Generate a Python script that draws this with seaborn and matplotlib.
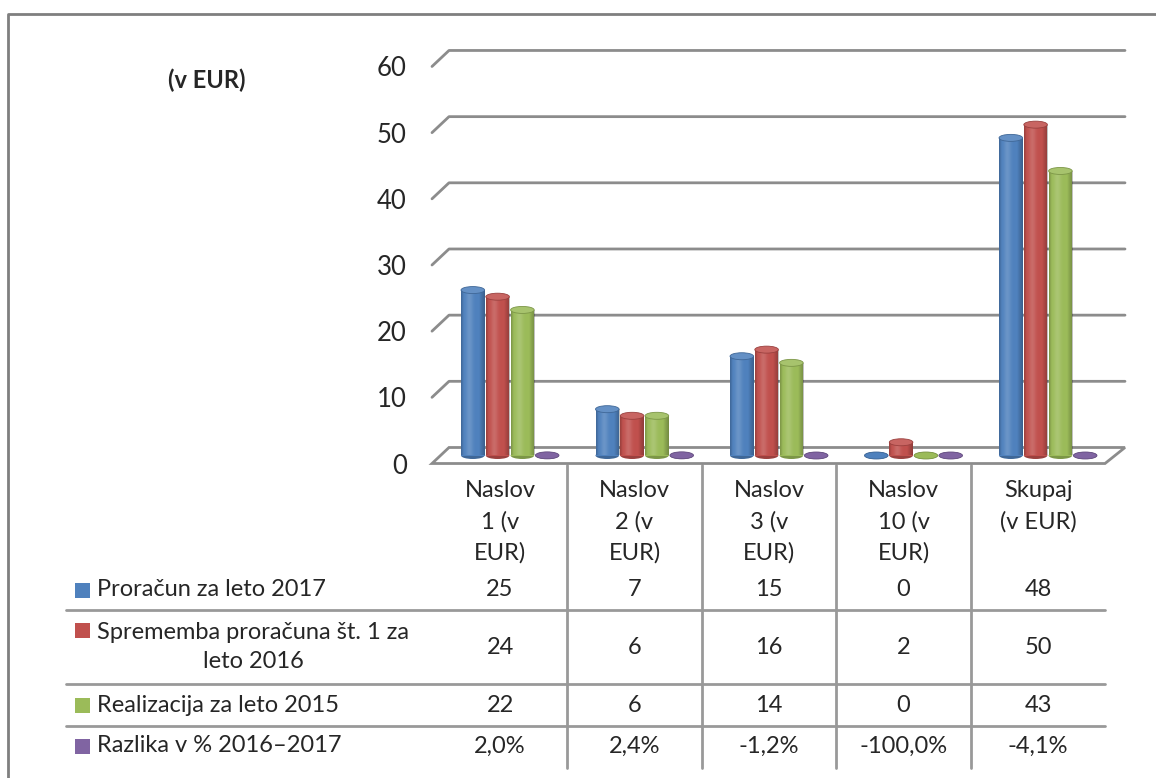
import numpy as np
import pandas as pd
import matplotlib
matplotlib.use("Agg")
import matplotlib.pyplot as plt
from matplotlib.patches import Ellipse, Polygon, Rectangle
from matplotlib.colors import to_rgb
import seaborn as sns

# ---------- data ----------
categories = ["Naslov\n1 (v\nEUR)", "Naslov\n2 (v\nEUR)", "Naslov\n3 (v\nEUR)",
              "Naslov\n10 (v\nEUR)", "Skupaj\n(v EUR)"]
series = ["Proračun za leto 2017", "Sprememba proračuna št. 1 za\nleto 2016",
          "Realizacija za leto 2015", "Razlika v % 2016–2017"]
proracun_2017 = [25, 7, 15, 0, 48]
sprememba_2016 = [24, 6, 16, 2, 50]
realizacija_2015 = [22, 6, 14, 0, 43]
razlika_pct = [2.0, 2.4, -1.2, -100.0, -4.1]
colors = ["#4F81BD", "#C0504D", "#9BBB59", "#8064A2"]
y_ticks = [0, 10, 20, 30, 40, 50, 60]

# ---------- layout (pixels) ----------
W, H = 1156, 778
X0, DX = 510, 134.5      # pixel of first category, pixels per category
Y0, DY = 455.5, 6.617    # pixel of value 0, pixels per unit
OFF = 1.21               # depth offset of back wall / front edge (value units)
COL_OFF = -0.074         # table columns vs bar groups
AX_L, AX_R, AX_T, AX_B = 420, 1140, 30, 475


def cx(px):
    return (px - X0) / DX


sns.set_theme(style="white")
plt.rcParams["font.family"] = ["Lato", "DejaVu Sans"]
FS = 17

fig = plt.figure(figsize=(W / 100, H / 100), dpi=100)

# background axes for the data table and frame (x in category units, y in pixels)
tab = fig.add_axes([0, 0, 1, 1])
tab.set_xlim(cx(0), cx(W))
tab.set_ylim(H, 0)
tab.axis("off")

ax = fig.add_axes([AX_L / W, 1 - AX_B / H, (AX_R - AX_L) / W, (AX_B - AX_T) / H])
ax.set_facecolor("none")

rows = []
for i, cat in enumerate(categories):
    for s, vals in zip(series, [proracun_2017, sprememba_2016, realizacija_2015,
                                [v / 100 for v in razlika_pct]]):
        rows.append({"naslov": cat, "serija": s, "vrednost": vals[i]})
df = pd.DataFrame(rows)

sns.barplot(data=df, x="naslov", y="vrednost", hue="serija", order=categories,
            hue_order=series, palette=colors, saturation=1, width=0.7376, gap=0.05,
            errorbar=None, legend=False, linewidth=0, ax=ax)

xlim = (cx(AX_L), cx(AX_R))
ylim = ((Y0 - AX_B) / DY, (Y0 - AX_T) / DY)
GRID = "#8c8c8c"

# floor and back wall gridlines
floor = Polygon([(cx(432), -OFF), (cx(1105), -OFF), (cx(1125), OFF), (cx(449), OFF)],
                closed=True, facecolor="white", edgecolor=GRID, lw=2, zorder=0.5)
ax.add_patch(floor)
for v in y_ticks[1:]:
    ax.plot([cx(432), cx(449), cx(1125)], [v - OFF, v + OFF, v + OFF],
            color=GRID, lw=2, zorder=0.4, solid_capstyle="round")

# cylinder look
t = np.linspace(0, 1, 64)
a_dark = np.clip(0.2 * (1 - t / 0.12), 0, None) + np.clip(0.26 * (t - 0.75) / 0.25, 0, None)
a_light = 0.16 * np.exp(-((t - 0.35) / 0.15) ** 2)
shade = np.zeros((1, 64, 4))
shade[0, :, :3] = (a_light / (a_light + a_dark + 1e-9))[:, None]
shade[0, :, 3] = a_light + a_dark

CAP = 7 / DY
clip_rect = Rectangle((xlim[0], 0), xlim[1] - xlim[0], ylim[1], transform=ax.transData)
for k, cont in enumerate(ax.containers):
    base = np.array(to_rgb(colors[k]))
    light = base + (1 - base) * 0.12
    dark = base * 0.8
    for bar in cont:
        x, w, h = bar.get_x(), bar.get_width(), bar.get_height()
        top = max(h, 0)
        bar.set_clip_path(clip_rect)
        ax.add_patch(Ellipse((x + w / 2, 0), w, CAP, facecolor=dark, lw=0, zorder=0.9))
        if top > 0.5:
            im = ax.imshow(shade, extent=(x, x + w, 0, top), aspect="auto",
                           interpolation="bilinear", zorder=1.1)
            im.set_clip_path(bar)
        ax.add_patch(Ellipse((x + w / 2, top), w, CAP, facecolor=light if top > 0.5 else base,
                             edgecolor=dark, lw=0.6, zorder=1.2))

ax.set_xlim(*xlim)
ax.set_ylim(*ylim)
ax.set_xticks([])
ax.set_yticks([v - OFF for v in y_ticks])
ax.set_yticklabels([str(v) for v in y_ticks], fontsize=FS + 1.5)
ax.tick_params(axis="y", length=0, pad=9.5)
ax.set_xlabel("")
ax.set_ylabel("")
for sp in ax.spines.values():
    sp.set_visible(False)

# ---------- frame and unit label ----------
FRAME = "#7f7f7f"
tab.plot([cx(8), cx(8), cx(W)], [H, 14, 14], color=FRAME, lw=2)
tab.text(cx(207), 80, "(v EUR)", ha="center", va="center", fontsize=FS, fontweight="bold")

# ---------- data table ----------
LINE = "#999999"
for i, cat in enumerate(categories):
    for j, line in enumerate(cat.split("\n")):
        tab.text(i + COL_OFF, 490 + 31.5 * j, line, ha="center", va="center", fontsize=FS)
for i in range(4):
    tab.plot([i + 0.5 + COL_OFF] * 2, [465, 768], color=LINE, lw=2)
for y in [610, 684, 726]:
    tab.plot([cx(66), 4.5 + COL_OFF], [y, y], color=LINE, lw=2)

row_y = [590, 647, 705, 746]
for r, (s, vals) in enumerate(zip(series, [proracun_2017, sprememba_2016,
                                          realizacija_2015, razlika_pct])):
    y = row_y[r]
    n_lines = s.count("\n") + 1
    sq_y = y - 16.5 * (n_lines - 1)
    tab.add_patch(Rectangle((cx(75), sq_y - 7.5), 15 / DX, 15, facecolor=colors[r], lw=0))
    tab.text(cx(97), y, s, ha="left", va="center", multialignment="center",
             fontsize=FS, linespacing=1.45)
    for i, v in enumerate(vals):
        txt = f"{v:.1f}%".replace(".", ",") if r == 3 else f"{v:d}"
        tab.text(i + COL_OFF, y, txt, ha="center", va="center", fontsize=FS)

fig.savefig("out.png", dpi=100)
